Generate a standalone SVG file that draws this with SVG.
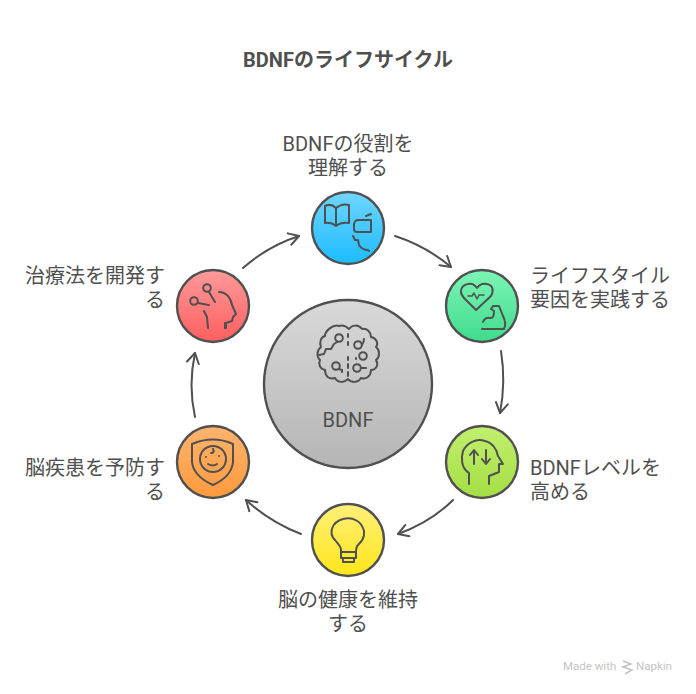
<svg xmlns="http://www.w3.org/2000/svg" width="696" height="694" viewBox="0 0 696 694">
<style>
text{font-family:"Roboto","Noto Sans CJK JP",sans-serif;fill:#505050;font-size:20px}
.t{font-weight:700;font-size:20px}
.n{fill:none;stroke:#505050;stroke-width:2.4;stroke-linecap:round;stroke-linejoin:round}
.i{fill:none;stroke:#505050;stroke-width:2;stroke-linecap:round;stroke-linejoin:round}
.c{fill:none;stroke:#505050;stroke-width:2;stroke-linecap:round;stroke-linejoin:round}
.m{text-anchor:middle}.e{text-anchor:end}
</style>
<defs>
<linearGradient id="gb" x1="0" y1="0" x2="0" y2="1"><stop offset="0" stop-color="#6fd6ff"/><stop offset="1" stop-color="#1cbcff"/></linearGradient>
<linearGradient id="gg" x1="0" y1="0" x2="0" y2="1"><stop offset="0" stop-color="#7df5b6"/><stop offset="1" stop-color="#3fdc8c"/></linearGradient>
<linearGradient id="gl" x1="0" y1="0" x2="0" y2="1"><stop offset="0" stop-color="#c2ef6e"/><stop offset="1" stop-color="#a4de45"/></linearGradient>
<linearGradient id="gy" x1="0" y1="0" x2="0" y2="1"><stop offset="0" stop-color="#ffef7a"/><stop offset="1" stop-color="#ffe61a"/></linearGradient>
<linearGradient id="go" x1="0" y1="0" x2="0" y2="1"><stop offset="0" stop-color="#ffb46e"/><stop offset="1" stop-color="#ff9a3d"/></linearGradient>
<linearGradient id="gr" x1="0" y1="0" x2="0" y2="1"><stop offset="0" stop-color="#ff9a9a"/><stop offset="1" stop-color="#ff5f5f"/></linearGradient>
<linearGradient id="gc" x1="0" y1="0" x2="0" y2="1"><stop offset="0" stop-color="#d9d9d9"/><stop offset="1" stop-color="#b5b5b5"/></linearGradient>
<marker id="a" viewBox="0 0 14 14" refX="12" refY="7" markerWidth="14" markerHeight="14" markerUnits="userSpaceOnUse" orient="auto"><path d="M2 1L12 7L2 13" fill="none" stroke="#505050" stroke-width="2" stroke-linecap="round" stroke-linejoin="round"/></marker>
</defs>
<text class="t m" x="348" y="67">BDNFのライフサイクル</text>
<g id="connectors">
<path class="c" d="M395 236Q426 246 451 267" marker-end="url(#a)"/>
<path class="c" d="M501 351Q506 382 500 413" marker-end="url(#a)"/>
<path class="c" d="M453 500Q431 522 398 534" marker-end="url(#a)"/>
<path class="c" d="M301 534Q270 522 246 500" marker-end="url(#a)"/>
<path class="c" d="M195 417Q188 385 195 353" marker-end="url(#a)"/>
<path class="c" d="M243 268Q268 246 299 236" marker-end="url(#a)"/>
</g>
<g id="center">
<circle class="n" cx="348" cy="384" r="84" style="fill:url(#gc)"/>
<text class="m" x="348" y="427">BDNF</text>
<g class="i">
<path d="M339 326C344 324 347 327 349 329C352 325 358 324 362 329C367 328 371 332 371 337C376 338 379 343 376 347C380 350 380 357 376 360C379 365 376 370 371 370C371 376 366 380 361 378C358 383 351 383 348 379C344 383 338 383 335 378C329 380 325 376 325 370C320 369 318 364 320 360C316 356 317 350 321 347C319 342 321 337 325 336C325 331 333 324 339 326Z"/>
<circle cx="339" cy="338" r="3.8"/><path d="M337 342L334 344L331 349L326 349L324 354L319 355"/>
<circle cx="358" cy="345" r="3.8"/><path d="M362 345Q364 342 364 339"/>
<circle cx="363" cy="356" r="3.8"/>
<circle cx="357" cy="368" r="3.8"/><path d="M361 368L366 368"/>
<circle cx="336" cy="366" r="3.8"/><path d="M339 369L342 370L342 372"/>
<path d="M348 334V337M348 342V345M348 357V360M348 364V368M348 372V376M356 358V359"/>
</g>
</g>
<g id="node-top">
<circle class="n" cx="348" cy="228" r="36" style="fill:url(#gb)"/>
<path class="i" d="M336 226Q331 222 325 223L325 206Q331 203 336 208Q342 203 349 205L349 223Q341 222 336 226ZM336 208V226"/>
<path class="i" d="M354 229V224Q355 220 358 220H371V232H357Q354 232 354 229ZM366 216L371 214"/>
<path class="i" d="M353 236L355 240H358L359 245Q362 250 368 250L369 251"/>
<text class="m" x="348" y="151">BDNFの役割を</text>
<text class="m" x="348" y="175">理解する</text>
</g>
<g id="node-right-top">
<circle class="n" cx="482" cy="306" r="36" style="fill:url(#gg)"/>
<path class="i" d="M476 310L464 298C458 291 462 285 468 284C472 283 475 285 477 288C479 285 483 283 487 284C493 285 494 291 491 296Z"/>
<path class="i" style="stroke-width:1.5" d="M468 296H472L474 293L477 299L479 295H484"/>
<path class="i" d="M482 329H504C506 325 505 320 503 316L499 306L493 306L491 309L494 311C494 315 493 318 491 318C487 317 484 319 483 322"/>
<text x="530" y="283">ライフスタイル</text>
<text x="530" y="307">要因を実践する</text>
</g>
<g id="node-right-bot">
<circle class="n" cx="482" cy="462" r="36" style="fill:url(#gl)"/>
<path class="i" d="M469 484V473C461 468 461 458 463 451C467 443 476 438 485 441C493 443 497 450 498 456L503 464H499V472L489 476V484"/>
<path class="i" d="M474 464V451M470 455L474 450L478 455M486 450V463M482 459L486 464L490 459"/>
<text x="530" y="475">BDNFレベルを</text>
<text x="530" y="499">高める</text>
</g>
<g id="node-bottom">
<circle class="n" cx="348" cy="540" r="36" style="fill:url(#gy)"/>
<path class="i" d="M341 550C341 546 338 544 335 540C328 533 332 522 343 519C353 516 362 522 364 531C365 538 361 542 358 545C356 547 356 549 356 552H341ZM341 552V558H356V552M343 558V562H354V558"/>
<text class="m" x="348" y="607">脳の健康を維持</text>
<text class="m" x="348" y="631">する</text>
</g>
<g id="node-left-bot">
<circle class="n" cx="213" cy="462" r="36" style="fill:url(#go)"/>
<path class="i" d="M192 444Q213 435 233 444V462C232 472 224 480 213 485C202 480 193 472 192 462Z"/>
<circle class="i" cx="213" cy="459" r="13"/>
<path class="i" d="M208 464Q213 467 217 464M213 449Q215 453 211 453M206 457V457M219 456V456"/>
<text class="e" x="165" y="475">脳疾患を予防す</text>
<text class="e" x="165" y="499">る</text>
</g>
<g id="node-left-top">
<circle class="n" cx="213" cy="306" r="36" style="fill:url(#gr)"/>
<circle class="i" cx="207" cy="288" r="3.8"/><path class="i" d="M209 292L215 302"/>
<circle class="i" cx="194" cy="301" r="3.8"/><path class="i" d="M198 303L209 305"/>
<path class="i" d="M219 292C226 292 231 298 232 305L236 314L233 317L232 321L226 323V328H225"/>
<path class="i" d="M204 311L207 317L208 328M225 328V323"/>
<text class="e" x="165" y="283">治療法を開発す</text>
<text class="e" x="165" y="307">る</text>
</g>
<g id="watermark">
<text x="563" y="670" style="font-size:11.5px;fill:#c4c4c4">Made with</text>
<path d="M623 661L631 664L623 667L632 670L625 674" fill="none" stroke="#c4c4c4" stroke-width="1.6"/>
<text x="636" y="670" style="font-size:11.5px;fill:#c4c4c4">Napkin</text>
</g>
</svg>
